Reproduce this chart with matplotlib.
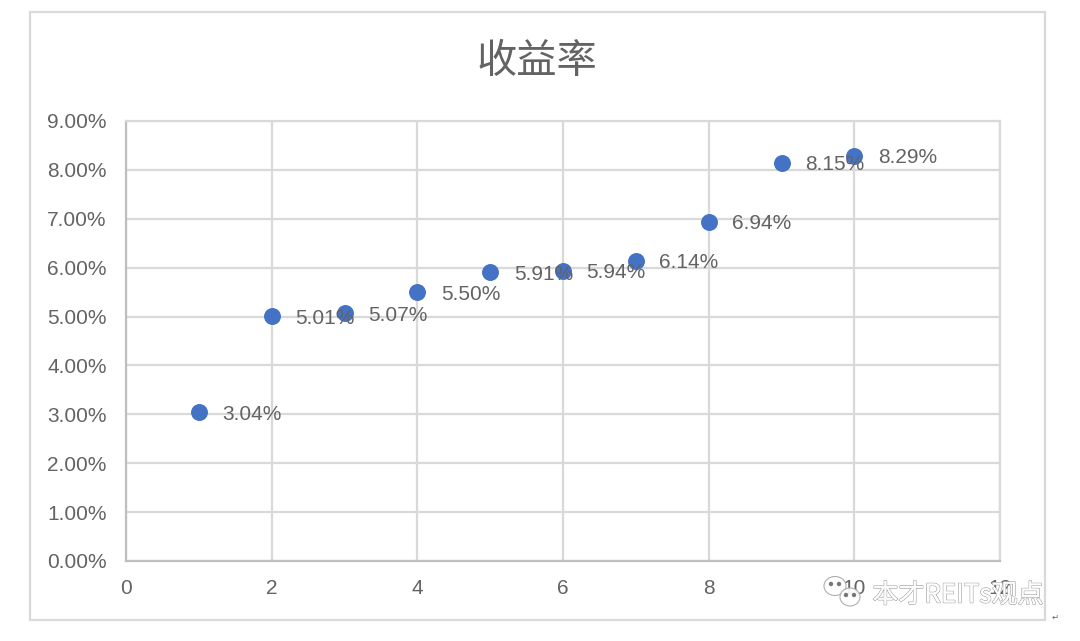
import matplotlib
matplotlib.use('Agg')
import matplotlib.pyplot as plt
from matplotlib.patches import Rectangle, Ellipse, Polygon
import matplotlib.patheffects as pe

plt.rcParams['font.family'] = ['Liberation Sans', 'Noto Sans CJK SC', 'DejaVu Sans']

x_vals = [1, 2, 3, 4, 5, 6, 7, 8, 9, 10]
returns = [3.04, 5.01, 5.07, 5.50, 5.91, 5.94, 6.14, 6.94, 8.15, 8.29]
x_ticks = [0, 2, 4, 6, 8, 10, 12]
y_ticks = [0, 1, 2, 3, 4, 5, 6, 7, 8, 9]

W, H = 1080, 641
GREY = '#636363'
GRID = '#d9d9d9'

fig = plt.figure(figsize=(W / 100, H / 100), dpi=100)
fig.patch.set_facecolor('white')

# outer chart frame
fig.add_artist(Rectangle((30 / W, 1 - 620 / H), 1015 / W, 608 / H, transform=fig.transFigure,
                         fill=False, edgecolor=GRID, linewidth=1.6))

ax = fig.add_axes([126 / W, 1 - 561 / H, 874 / W, 440 / H])
ax.set_xlim(0, 12)
ax.set_ylim(0, 9)
ax.set_xticks(x_ticks)
ax.set_yticks(y_ticks)
ax.set_yticklabels(['%.2f%%' % v for v in y_ticks])
ax.grid(True, color=GRID, linewidth=1.6)
ax.set_axisbelow(True)
for s in ax.spines.values():
    s.set_color(GRID)
    s.set_linewidth(1.6)
ax.spines['left'].set_color('#bfbfbf')
ax.spines['bottom'].set_color('#bfbfbf')
ax.tick_params(length=0, labelsize=15, labelcolor=GREY, pad=13)
ax.tick_params(axis='y', pad=14)

ax.scatter(x_vals, returns, s=125, color='#4472c4', zorder=3, clip_on=False)
for xv, yv in zip(x_vals, returns):
    ax.annotate('%.2f%%' % yv, (xv, yv), xytext=(17, -1.5), textcoords='offset points',
                fontsize=15, color=GREY, va='center', ha='left', zorder=4)

fig.text(537 / W, 1 - 62 / H, '收益率', fontsize=29, color=GREY, ha='center', va='center',
         family=['Noto Sans CJK SC', 'DejaVu Sans'])

# watermark
halo = [pe.withStroke(linewidth=1.0, foreground='#999999'), pe.Normal()]
fig.text(958 / W, 1 - 595 / H, '本才REITs观点', fontsize=18.7, color='white', ha='center', va='center',
         family=['Noto Sans CJK SC', 'DejaVu Sans'], path_effects=halo, alpha=0.9)
for cx, cy, rx, ry in [(835, 586, 11, 9.5), (850, 597, 10, 9)]:
    fig.add_artist(Ellipse((cx / W, 1 - cy / H), 2 * rx / W, 2 * ry / H, transform=fig.transFigure,
                           facecolor='white', edgecolor='#a6a6a6', linewidth=0.8, alpha=0.9))
    fig.add_artist(Ellipse(((cx - 4) / W, 1 - (cy - 2) / H), 3 / W, 3 / H, transform=fig.transFigure,
                           color='#777777'))
    fig.add_artist(Ellipse(((cx + 4) / W, 1 - (cy - 2) / H), 3 / W, 3 / H, transform=fig.transFigure,
                           color='#777777'))

fig.text(1055 / W, 1 - 617 / H, '↵', fontsize=6, color='#666666', ha='center', va='center',
         family='DejaVu Sans')

fig.savefig('out.png', dpi=100)
